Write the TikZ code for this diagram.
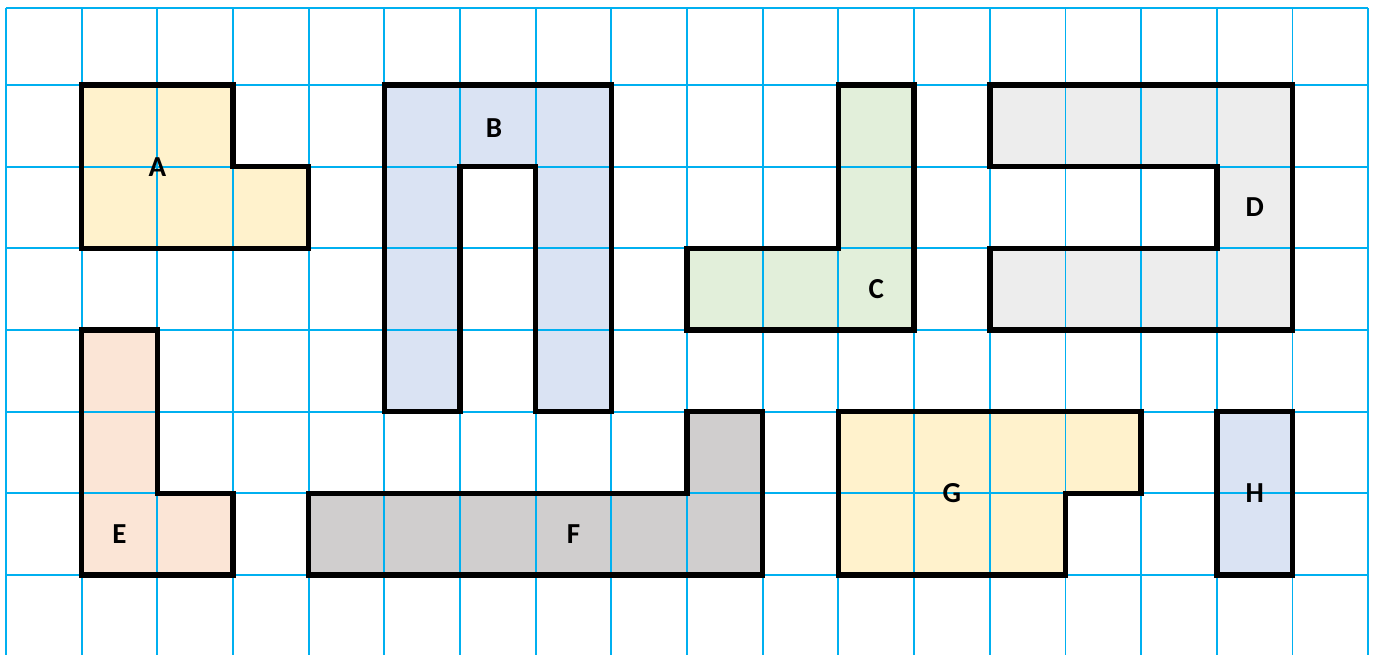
\documentclass[tikz,border=0pt]{standalone}
\usepackage{fontspec}
\setmainfont{Carlito}
\usepackage{tikz}
\definecolor{GridBlue}{HTML}{00B0F0}
\definecolor{PaleYellow}{HTML}{FFF2CC}
\definecolor{PaleBlue}{HTML}{DAE3F3}
\definecolor{PaleGreen}{HTML}{E2EFDA}
\definecolor{PaleGrey}{HTML}{EDEDED}
\definecolor{PalePeach}{HTML}{FBE5D6}
\definecolor{MidGrey}{HTML}{D0CECE}

\begin{document}
\begin{tikzpicture}[x=1.5133cm, y=-1.6333cm,
        gridline/.style={GridBlue, line width=1.1pt},
        outline/.style={black, line width=3.1pt},
        piecelabel/.style={font=\fontsize{16.5}{19}\selectfont\bfseries}]
        % Define grid size
        \def \cols {18}  % Number of columns
        \def \rows {7}  % Number of inner rows
        \def \gridtop {0.057}  % Top edge of the grid
        \def \gridbottom {7.98}  % Grid runs off the bottom

        \useasboundingbox (-0.079,-0.041) rectangle (18.09,7.98);

        % Outlines of the pieces
        \def \pieceA {(1,1) -- (3,1) -- (3,2) -- (4,2) -- (4,3) -- (1,3) -- cycle}
        \def \pieceB {(5,1) -- (8,1) -- (8,5) -- (7,5) -- (7,2) -- (6,2) -- (6,5) -- (5,5) -- cycle}
        \def \pieceC {(11,1) -- (12,1) -- (12,4) -- (9,4) -- (9,3) -- (11,3) -- cycle}
        \def \pieceD {(13,1) -- (17,1) -- (17,4) -- (13,4) -- (13,3) -- (16,3) -- (16,2) -- (13,2) -- cycle}
        \def \pieceE {(1,4) -- (2,4) -- (2,6) -- (3,6) -- (3,7) -- (1,7) -- cycle}
        \def \pieceF {(4,6) -- (9,6) -- (9,5) -- (10,5) -- (10,7) -- (4,7) -- cycle}
        \def \pieceG {(11,5) -- (15,5) -- (15,6) -- (14,6) -- (14,7) -- (11,7) -- cycle}
        \def \pieceH {(16,5) -- (17,5) -- (17,7) -- (16,7) -- cycle}

        % Fill the pieces
        \fill[PaleYellow] \pieceA;
        \fill[PaleBlue] \pieceB;
        \fill[PaleGreen] \pieceC;
        \fill[PaleGrey] \pieceD;
        \fill[PalePeach] \pieceE;
        \fill[MidGrey] \pieceF;
        \fill[PaleYellow] \pieceG;
        \fill[PaleBlue] \pieceH;

        % Draw the grid
        \foreach \x in {0,...,\cols} {
            \draw[gridline] (\x,\gridtop) -- (\x,\gridbottom);
        }
        \draw[gridline] (0,\gridtop) -- (\cols,\gridtop);
        \foreach \y in {1,...,\rows} {
            \draw[gridline] (0,\y) -- (\cols,\y);
        }

        % Draw the piece borders
        \foreach \p in {\pieceA,\pieceB,\pieceC,\pieceD,\pieceE,\pieceF,\pieceG,\pieceH} {
            \draw[outline] \p;
        }

        % Piece names
        \node[piecelabel] (A) at (2,2) {A};
        \node[piecelabel] (B) at (6.45,1.53) {B};
        \node[piecelabel] (C) at (11.5,3.5) {C};
        \node[piecelabel] (D) at (16.5,2.5) {D};
        \node[piecelabel] (E) at (1.5,6.5) {E};
        \node[piecelabel] (F) at (7.5,6.5) {F};
        \node[piecelabel] (G) at (12.5,6) {G};
        \node[piecelabel] (H) at (16.5,6) {H};
    \end{tikzpicture}
\end{document}
